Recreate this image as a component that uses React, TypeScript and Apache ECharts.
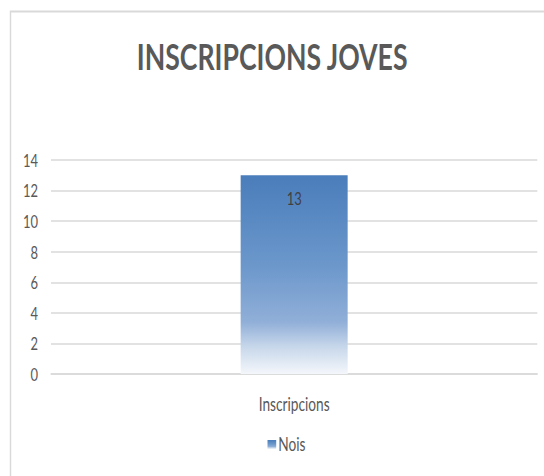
import React, { useEffect, useRef } from "react";
import * as echarts from "echarts";

const categories = ["Inscripcions"];
const seriesName = "Nois";
const values = [13];
const titleText = "INSCRIPCIONS JOVES";
const yMin = 0;
const yMax = 14;
const yInterval = 2;

const FONT = 'Lato, "Open Sans", sans-serif';
const VIEW_W = 544;
const VIEW_H = 476;
const SX = 0.72; // horizontal squeeze of the reference picture
const W = VIEW_W / SX;
const px = (x: number) => x / SX;

export default function App() {
  const ref = useRef<HTMLDivElement>(null);
  useEffect(() => {
    if (!ref.current) return;
    const chart = echarts.init(ref.current, undefined, { renderer: "svg" });
    chart.setOption({
      animation: false,
      backgroundColor: "#ffffff",
      textStyle: { fontFamily: FONT },
      graphic: [
        {
          type: "rect",
          silent: true,
          shape: { x: px(10.5), y: 11.5, width: 1200, height: 700 },
          style: { fill: "none", stroke: "#d9d9d9", lineWidth: 2 },
        },
      ],
      title: {
        text: titleText,
        left: "center",
        top: 32,
        textStyle: { color: "#595959", fontSize: 37, fontWeight: "bold", fontFamily: FONT },
      },
      grid: { left: px(51), right: W - px(537), top: 160, bottom: VIEW_H - 374, containLabel: false },
      legend: {
        data: [seriesName],
        top: 430,
        left: px(267.5) - 5,
        itemWidth: px(8.7),
        itemHeight: 9,
        itemGap: 4,
        icon: "rect",
        textStyle: { color: "#595959", fontSize: 19, fontFamily: FONT, padding: [0, 0, 0, -2] },
      },
      xAxis: {
        type: "category",
        data: categories,
        axisLine: { lineStyle: { color: "#d9d9d9", width: 1.5 } },
        axisTick: { show: false },
        axisLabel: { color: "#595959", fontSize: 19, margin: 21, fontFamily: FONT },
      },
      yAxis: {
        type: "value",
        min: yMin,
        max: yMax,
        interval: yInterval,
        axisLine: { show: false },
        axisTick: { show: false },
        axisLabel: { color: "#595959", fontSize: 18, margin: px(13), fontFamily: FONT },
        splitLine: { lineStyle: { color: "#d9d9d9", width: 1.5 } },
      },
      series: [
        {
          name: seriesName,
          type: "bar",
          data: values,
          barWidth: px(107),
          itemStyle: {
            color: new echarts.graphic.LinearGradient(0, 0, 0, 1, [
              { offset: 0, color: "#4a7dbb" },
              { offset: 0.45, color: "#6b97cb" },
              { offset: 0.74, color: "#91afd8" },
              { offset: 0.86, color: "#c6d6ea" },
              { offset: 1, color: "#f4f7fb" },
            ]),
          },
          label: {
            show: true,
            position: "insideTop",
            distance: 14,
            color: "#404040",
            fontSize: 18,
            fontFamily: FONT,
          },
        },
      ],
    });
    return () => chart.dispose();
  }, []);
  return (
    <div
      style={{ position: "absolute", left: 0, top: 0, width: VIEW_W, height: VIEW_H, overflow: "hidden" }}
    >
      <div
        ref={ref}
        style={{
          width: W,
          height: VIEW_H,
          transform: `scaleX(${SX})`,
          transformOrigin: "0 0",
        }}
      />
    </div>
  );
}
